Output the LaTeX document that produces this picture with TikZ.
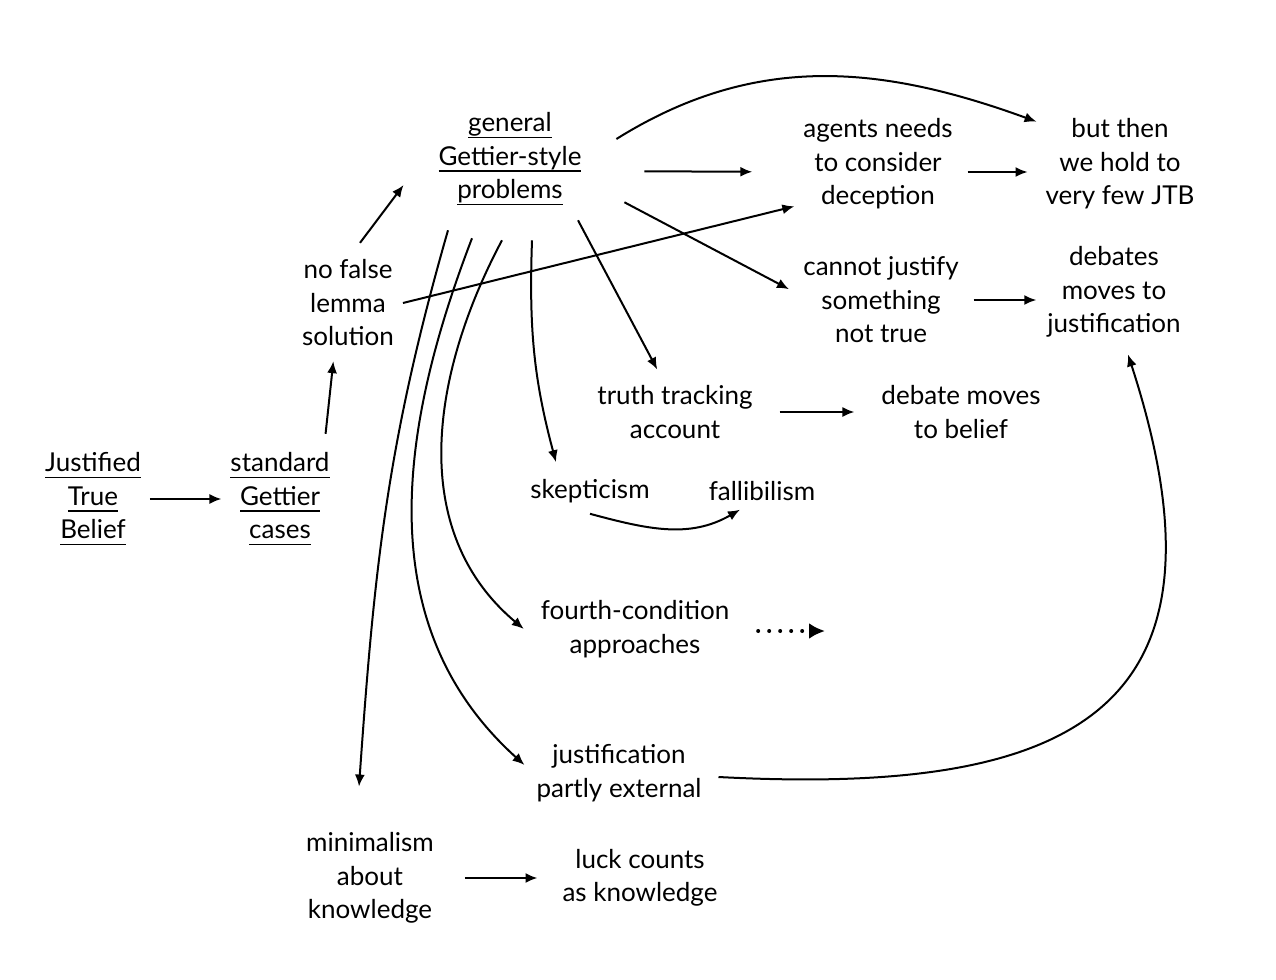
\documentclass[tikz,border=0pt]{standalone}
\usepackage{fontspec}
\setmainfont{Lato}
\usetikzlibrary{arrows.meta}
\newcommand{\undl}[1]{\setbox0\hbox{#1}\rlap{\rule[-3.2pt]{\wd0}{0.8pt}}\box0}
\begin{document}
\begin{tikzpicture}[x=0.5pt,y=0.5pt,line width=1pt,line cap=butt,>={Latex[length=6pt,width=5pt]},font=\fontsize{13}{16.75}\selectfont]
	\tikzset{txt/.style={align=center,inner sep=4pt},
		dots/.style={dash pattern=on 0pt off 5.5pt,line cap=round,line width=2pt,-{Latex[length=8pt,width=8pt]}}}
	\useasboundingbox (0,0) rectangle (1276,-980);
	\node[txt] (jtb) at (93,-499) {\undl{Justified}\\\undl{True}\\\undl{Belief}};
	\node[txt] (std) at (280,-499) {\undl{standard}\\\undl{Gettier}\\\undl{cases}};
	\node[txt] (nfl) at (348,-303) {no false\\lemma\\solution};
	\node[txt] (gen) at (510,-159) {\undl{general}\\\undl{Gettier-style}\\\undl{problems}};
	\node[txt] (agt) at (878,-164) {agents needs\\to consider\\deception};
	\node[txt] (few) at (1120,-164) {but then\\we hold to\\very few JTB};
	\node[txt] (cnj) at (881,-300) {cannot justify\\something\\not true};
	\node[txt] (dbj) at (1114,-292) {debates\\moves to\\justification};
	\node[txt] (trk) at (675,-412) {truth tracking\\account};
	\node[txt] (dbb) at (961,-412) {debate moves\\to belief};
	\node[txt] (skp) at (590,-491) {skepticism};
	\node[txt] (fal) at (762,-491) {fallibilism};
	\node[txt] (fth) at (635,-629) {fourth-condition\\approaches};
	\node[txt] (jpe) at (619,-773) {justification\\partly external};
	\node[txt] (min) at (370,-878) {minimalism\\about\\knowledge};
	\node[txt] (lck) at (640,-878) {luck counts\\as knowledge};
	\coordinate (fthend) at (825,-631);
	\draw[->] (jtb) -- (std);
	\draw[->,shorten <=5pt,shorten >=3pt] ([xshift=-7pt]std.north east) -- ([xshift=-7pt]nfl.south);
	\draw[->,shorten <=5pt] ([xshift=3pt]nfl.north) -- ([shift={(-13pt,-13pt)}]gen.west);
	\draw[->] (nfl.east) -- ([yshift=6pt]agt.south west);
	\draw[->,shorten <=27pt,shorten >=21pt] ([yshift=-6pt]gen.east) -- ([yshift=-4pt]agt.west);
	\draw[->] ([shift={(13pt,10pt)}]gen.east) to[out=32,in=160] ([yshift=-6pt]few.north west);
	\draw[->,shorten >=3pt] ([shift={(17pt,6pt)}]gen.south east) -- ([yshift=4pt]cnj.west);
	\draw[->,shorten >=4pt] ([shift={(34pt,-3pt)}]gen.south) -- ([xshift=-7pt]trk.north);
	\draw[->] ([shift={(11pt,-13pt)}]gen.south) to[out=-92,in=105] ([shift={(-17pt,4pt)}]skp.north);
	\draw[->] ([shift={(-4pt,-13pt)}]gen.south) to[out=-118,in=140] ([xshift=-4pt]fth.west);
	\draw[->] ([shift={(-19pt,-12pt)}]gen.south) to[out=-111,in=138] ([shift={(-1.5pt,4pt)}]jpe.west);
	\draw[->] ([shift={(-31pt,-8pt)}]gen.south) to[out=-106,in=86] ([shift={(-5.5pt,18.5pt)}]min.north);
	\draw[->,shorten <=3pt,shorten >=4.5pt] ([yshift=-4pt]agt.east) -- ([yshift=-4pt]few.west);
	\draw[->,shorten <=3pt,shorten >=1pt] (cnj.east) -- (cnj.east -| dbj.west);
	\draw[->,shorten <=9pt,shorten >=9pt] (trk) -- (dbb);
	\draw[->] ([yshift=-1pt]skp.south) to[out=-15,in=-150] ([xshift=-11pt]fal.south);
	\draw[dots,shorten <=10pt] ([yshift=-1pt]fth.east) -- (fthend);
	\draw[->] ([shift={(4pt,-2pt)}]jpe.east) .. controls +(-3:175pt) and +(-72:190pt) .. ([shift={(7pt,-4pt)}]dbj.south);
	\draw[->,shorten <=11pt,shorten >=8pt] (min.east) -- (min.east -| lck.west);
\end{tikzpicture}
\end{document}
